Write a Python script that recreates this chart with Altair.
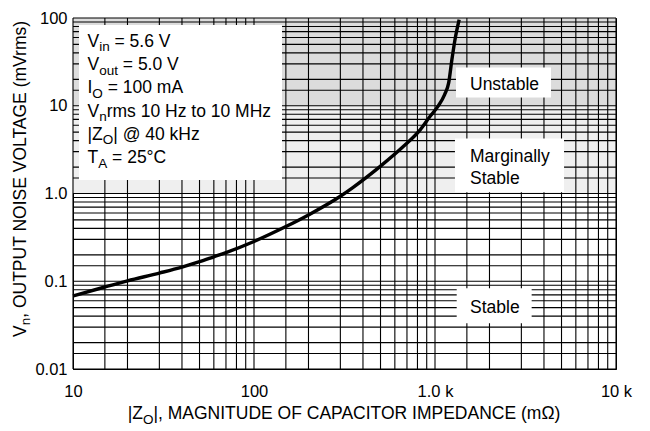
import altair as alt
import pandas as pd

# ---- data ----
z_mohm = [10, 15, 20, 30, 40, 50, 60, 70, 100, 150, 200, 300, 350, 500, 670, 830, 940, 1040, 1130, 1190, 1240, 1290, 1360]
vn_mv = [0.068, 0.086, 0.101, 0.124, 0.145, 0.167, 0.19, 0.212, 0.284, 0.42, 0.57, 0.93, 1.16, 2.05, 3.45, 5.35, 7.6, 9.9, 13.4, 18.2, 33.6, 57, 96]

x_decades = [10, 100, 1000, 10000]
x_labels = ["10", "100", "1.0 k", "10 k"]
y_decades = [0.01, 0.1, 1, 10, 100]
y_labels = ["0.01", "0.1", "1.0", "10", "100"]
grid_mantissas = [1, 1.5, 2, 3, 4, 5, 6, 7, 8, 9]

band_lo = [1, 10]
band_hi = [10, 100]
band_color = ["#efefef", "#dcdcdc"]

box_x1 = [10.79, 1306, 1289, 1318]
box_x2 = [142.8, 4375, 5164, 3420]
box_y1 = [1.426, 12.4, 1.03, 0.0333]
box_y2 = [83.2, 27.3, 4.23, 0.0834]

FONT = "Liberation Sans"
MAIN = 17.5
SUB = 13.5
SUB_DROP = 4.5

xs = alt.Scale(type="log", domain=[10, 10000], nice=False)
ys = alt.Scale(type="log", domain=[0.01, 100], nice=False)

x_grid = [round(m * d, 6) for d in x_decades[:-1] for m in grid_mantissas] + [x_decades[-1]]
y_grid = [round(m * d, 6) for d in y_decades[:-1] for m in grid_mantissas] + [y_decades[-1]]

def label_expr(vals, labs):
    parts = []
    for v, l in zip(vals, labs):
        parts.append(f"abs(datum.value - {v}) < {v*1e-6} ? '{l}'")
    return " : ".join(parts) + " : ''"

xa = alt.Axis(values=x_decades, labelExpr=label_expr(x_decades, x_labels),
              title=None, grid=False, ticks=False, labelFlush=False,
              labelOverlap=False, labelPadding=14, labelFontSize=16.5,
              labelFont=FONT, labelColor="black", domainColor="black")
ya = alt.Axis(values=y_decades, labelExpr=label_expr(y_decades, y_labels),
              title=None, grid=False, ticks=False, labelOverlap=False,
              labelPadding=6, labelFontSize=16.5, labelFont=FONT,
              labelColor="black", domainColor="black")

bands_df = pd.DataFrame({"x1": [10] * 2, "x2": [10000] * 2, "y1": band_lo, "y2": band_hi, "c": band_color})
bands = alt.Chart(bands_df).mark_rect().encode(
    x=alt.X("x1:Q", scale=xs, axis=xa), x2="x2:Q",
    y=alt.Y("y1:Q", scale=ys, axis=ya), y2="y2:Q",
    color=alt.Color("c:N", scale=None),
)

vgrid = alt.Chart(pd.DataFrame({"v": x_grid})).mark_rule(color="#000", strokeWidth=1.1).encode(
    x=alt.X("v:Q", scale=xs, axis=xa))
hgrid = alt.Chart(pd.DataFrame({"v": y_grid})).mark_rule(color="#000", strokeWidth=1.1).encode(
    y=alt.Y("v:Q", scale=ys, axis=ya))

boxes = alt.Chart(pd.DataFrame({"x1": box_x1, "x2": box_x2, "y1": box_y1, "y2": box_y2})).mark_rect(color="white").encode(
    x=alt.X("x1:Q", scale=xs, axis=xa), x2="x2:Q",
    y=alt.Y("y1:Q", scale=ys, axis=ya), y2="y2:Q")

curve = alt.Chart(pd.DataFrame({"z": z_mohm, "v": vn_mv})).mark_line(
    color="black", strokeWidth=3.4, interpolate="monotone").encode(
    x=alt.X("z:Q", scale=xs, axis=xa), y=alt.Y("v:Q", scale=ys, axis=ya))

# ---- text layout helpers (Arial / Liberation Sans advance widths) ----
W = {" ": 278, "|": 260, "(": 333, ")": 333, ",": 278, ".": 278, "=": 584, "@": 1015, "°": 400, "Ω": 768}
for ch in "0123456789":
    W[ch] = 556
W.update(dict(A=667, B=667, C=722, D=722, E=667, F=611, G=778, H=722, I=278, J=500, K=667, L=556, M=833,
              N=722, O=778, P=667, Q=778, R=722, S=667, T=611, U=722, V=667, W=944, X=667, Y=667, Z=611))
W.update(dict(a=556, b=556, c=500, d=556, e=556, f=278, g=556, h=556, i=222, j=222, k=500, l=222, m=833,
              n=556, o=556, p=556, q=556, r=333, s=500, t=278, u=556, v=500, w=722, x=500, y=500, z=500))

def tw(s, size):
    return sum(W.get(c, 556) for c in s) * size / 1000.0

def piece(s, x, y, size, angle=0):
    kw = dict(font=FONT, fontSize=size, align="left", baseline="alphabetic", color="black")
    if angle:
        kw["angle"] = angle
    return alt.Chart(pd.DataFrame({"t": [s]})).mark_text(**kw).encode(
        text="t:N", x=alt.value(x), y=alt.value(y))

def hline(parts, x, y):
    out = []
    for s, sub in parts:
        size = SUB if sub else MAIN
        lead = len(s) - len(s.lstrip(" "))
        x += tw(" " * lead, size)
        s = s.lstrip(" ")
        out.append(piece(s, x, y + (SUB_DROP if sub else 0), size))
        x += tw(s, size)
    return out

texts = []
legend_lines = [
    [("V", 0), ("in", 1), (" = 5.6 V", 0)],
    [("V", 0), ("out", 1), (" = 5.0 V", 0)],
    [("I", 0), ("O", 1), (" = 100 mA", 0)],
    [("V", 0), ("n", 1), ("rms 10 Hz to 10 MHz", 0)],
    [("|Z", 0), ("O", 1), ("| @ 40 kHz", 0)],
    [("T", 0), ("A", 1), (" = 25°C", 0)],
]
for i, ln in enumerate(legend_lines):
    texts += hline(ln, 14.5, 28.7 + 23.3 * i)

# region labels
texts.append(piece("Unstable", 397, 72, MAIN))
texts.append(piece("Marginally", 397, 143.5, MAIN))
texts.append(piece("Stable", 397, 166, MAIN))
texts.append(piece("Stable", 397, 294.7, MAIN))

# x-axis title
xt = [("|Z", 0), ("O", 1), ("|, MAGNITUDE OF CAPACITOR IMPEDANCE (mΩ)", 0)]
total = sum(tw(s, SUB if sb else MAIN) for s, sb in xt)
texts += hline(xt, 272 - total / 2, 401)

# y-axis title (rotated)
yt = [("V", 0), ("n", 1), (", OUTPUT NOISE VOLTAGE (mVrms)", 0)]
yy = 319
for s, sb in yt:
    size = SUB if sb else MAIN
    texts.append(piece(s, -47.5 + (SUB_DROP if sb else 0), yy, size, angle=270))
    yy -= tw(s, size)

chart = alt.layer(bands, vgrid, hgrid, boxes, curve, *texts).properties(
    width=543, height=351,
    autosize=alt.AutoSizeParams(type="none"),
    padding={"left": 65, "top": 10, "right": 26, "bottom": 56},
).configure_view(stroke="black", strokeWidth=1)

chart.save("out.html", embed_options={"renderer": "svg", "actions": False})
